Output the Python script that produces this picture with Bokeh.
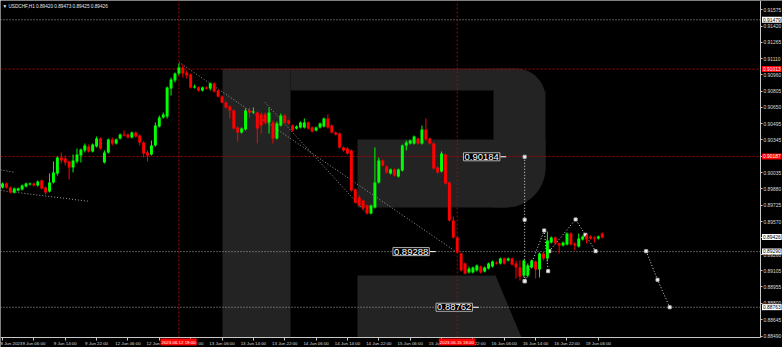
import numpy as np
from bokeh.plotting import figure
from bokeh.models import (Range1d, LinearAxis, FixedTicker, CustomJSTickFormatter,
                          ColumnDataSource, Label)
from bokeh.embed import file_html
from bokeh.resources import INLINE

# ---------------- data ----------------
SYMBOL = "USDCHF,H1"
HEADER_VALUES = ["0.89420", "0.89473", "0.89425", "0.89426"]

# hourly candles, prices x 1e-5
open_p = [89894, 89932, 89894, 89847, 89866, 89875, 89903, 89922, 89932, 89913,
          89960, 89894, 89856, 89941, 90026, 90177, 90168, 90140, 90083, 90140,
          90196, 90244, 90281, 90234, 90281, 90357, 90130, 90225, 90347, 90310,
          90357, 90395, 90395, 90366, 90414, 90385, 90319, 90225, 90206, 90291,
          90470, 90555, 90565, 90829, 90905, 90971, 91028, 90981, 90962, 90839,
          90839, 90810, 90839, 90829, 90877, 90810, 90754, 90697, 90659, 90622,
          90461, 90414, 90442, 90622, 90603, 90603, 90584, 90584, 90508, 90508,
          90357, 90480, 90574, 90527, 90480, 90451, 90461, 90461, 90508, 90461,
          90433, 90461, 90470, 90546, 90480, 90414, 90404, 90272, 90262, 90244,
          89875, 89799, 89771, 89724, 89648, 89705, 89941, 90149, 90092, 90026,
          90064, 89998, 90055, 90291, 90310, 90310, 90357, 90310, 90442, 90357,
          90310, 90083, 90045, 90206, 89941, 89582, 89421, 89270, 89176, 89091,
          89091, 89110, 89147, 89100, 89128, 89147, 89185, 89176, 89223, 89204,
          89223, 89176, 89138, 89062, 89062, 89138, 89194, 89119, 89270, 89223,
          89374, 89421, 89365, 89346, 89355, 89459, 89365, 89336, 89402, 89440,
          89431, 89421, 89412, 89459]
high_p = [89941, 89941, 89903, 89894, 89894, 89922, 89941, 89941, 89941, 89960,
          89969, 89903, 90026, 90140, 90187, 90225, 90196, 90149, 90206, 90262,
          90262, 90310, 90300, 90310, 90376, 90366, 90244, 90357, 90366, 90357,
          90404, 90433, 90404, 90423, 90423, 90395, 90329, 90244, 90338, 90508,
          90574, 90603, 90848, 90933, 90981, 91066, 91056, 90999, 90971, 90867,
          90848, 90848, 90848, 90886, 90886, 90820, 90763, 90707, 90669, 90631,
          90470, 90461, 90640, 90650, 90650, 90612, 90603, 90603, 90650, 90527,
          90518, 90593, 90584, 90536, 90489, 90480, 90518, 90546, 90518, 90470,
          90470, 90508, 90555, 90584, 90489, 90423, 90414, 90281, 90272, 90253,
          89884, 89818, 89780, 89733, 89733, 90272, 90177, 90158, 90102, 90073,
          90073, 90073, 90300, 90338, 90347, 90385, 90366, 90480, 90546, 90366,
          90319, 90092, 90234, 90215, 89950, 89620, 89431, 89280, 89185, 89147,
          89147, 89166, 89157, 89147, 89185, 89204, 89194, 89232, 89232, 89232,
          89232, 89204, 89204, 89213, 89176, 89213, 89204, 89280, 89289, 89478,
          89431, 89431, 89374, 89383, 89469, 89469, 89374, 89459, 89440, 89450,
          89440, 89431, 89440, 89469]
low_p = [89884, 89884, 89837, 89837, 89856, 89866, 89894, 89913, 89903, 89903,
         89875, 89828, 89847, 89932, 90007, 90121, 90102, 89969, 90036, 90121,
         90130, 90225, 90225, 90225, 90272, 90253, 90121, 90215, 90291, 90300,
         90347, 90376, 90357, 90357, 90366, 90291, 90177, 90140, 90196, 90281,
         90461, 90546, 90546, 90763, 90886, 90952, 90933, 90924, 90829, 90829,
         90801, 90801, 90820, 90810, 90792, 90744, 90688, 90640, 90546, 90442,
         90329, 90404, 90433, 90555, 90593, 90310, 90404, 90489, 90404, 90310,
         90347, 90470, 90499, 90489, 90423, 90442, 90451, 90451, 90442, 90414,
         90423, 90451, 90461, 90451, 90404, 90385, 90262, 90234, 90206, 89856,
         89743, 89714, 89677, 89639, 89639, 89695, 89932, 90092, 90026, 90017,
         89998, 89988, 90045, 90244, 90300, 90300, 90300, 90300, 90338, 90300,
         90064, 90026, 90036, 89922, 89573, 89412, 89270, 89100, 89072, 89081,
         89081, 89100, 89081, 89091, 89119, 89138, 89166, 89166, 89166, 89194,
         89157, 89034, 89015, 89043, 89043, 89128, 89034, 89043, 89204, 89194,
         89365, 89355, 89270, 89336, 89346, 89346, 89299, 89327, 89393, 89365,
         89402, 89374, 89402, 89412]
close_p = [89932, 89894, 89847, 89884, 89884, 89913, 89932, 89932, 89913, 89950,
           89884, 89847, 89941, 90036, 90177, 90149, 90130, 90083, 90149, 90206,
           90253, 90291, 90234, 90300, 90357, 90262, 90225, 90347, 90310, 90347,
           90395, 90385, 90366, 90414, 90376, 90319, 90215, 90196, 90291, 90480,
           90555, 90584, 90839, 90914, 90971, 91028, 90971, 90952, 90839, 90848,
           90810, 90839, 90829, 90877, 90801, 90754, 90697, 90650, 90622, 90451,
           90414, 90451, 90622, 90603, 90612, 90451, 90480, 90508, 90603, 90357,
           90499, 90574, 90508, 90499, 90433, 90470, 90508, 90508, 90451, 90423,
           90461, 90499, 90546, 90461, 90414, 90395, 90272, 90244, 90215, 89866,
           89752, 89724, 89695, 89648, 89724, 89941, 90149, 90102, 90036, 90064,
           90007, 90064, 90291, 90319, 90338, 90376, 90310, 90442, 90347, 90310,
           90073, 90036, 90215, 89932, 89582, 89421, 89280, 89110, 89081, 89128,
           89138, 89157, 89091, 89138, 89176, 89194, 89176, 89223, 89176, 89223,
           89166, 89138, 89053, 89204, 89157, 89204, 89119, 89270, 89223, 89393,
           89421, 89365, 89346, 89374, 89459, 89355, 89346, 89412, 89431, 89402,
           89412, 89412, 89431, 89421]

time_ticks = [0, 8, 16, 24, 32, 40, 48, 56, 64, 72, 80, 88, 96, 104, 112, 120, 128, 136, 144, 152]
time_labels = ["8 Jun 2023", "9 Jun 06:00", "9 Jun 14:00", "9 Jun 22:00", "12 Jun 06:00",
               "12 Jun 14:00", "12 Jun 22:00", "13 Jun 06:00", "13 Jun 14:00", "13 Jun 22:00",
               "14 Jun 06:00", "14 Jun 14:00", "14 Jun 22:00", "15 Jun 06:00", "15 Jun 14:00",
               "15 Jun 22:00", "16 Jun 06:00", "16 Jun 14:00", "16 Jun 22:00", "19 Jun 06:00"]
price_ticks = [0.91575, 0.91420, 0.91265, 0.91110, 0.90960, 0.90805, 0.90650, 0.90495,
               0.90345, 0.90190, 0.90035, 0.89880, 0.89725, 0.89570, 0.89420, 0.89260,
               0.89105, 0.88955, 0.88800, 0.88645, 0.88490]

cross_bars = [45, 116]
cross_labels = ["2023.06.12 19:00", "2023.06.15 18:00"]
red_levels = [0.91013, 0.90187]
gray_levels = [0.91479, 0.89288, 0.88762]
axis_marks_white = [0.91479, 0.89426, 0.89290, 0.88763]
axis_marks_red = [0.91013, 0.90187]

level_boxes_text = ["0.90184", "0.89288", "0.88762"]
level_boxes_price = [0.90184, 0.89288, 0.88762]
level_boxes_bar = [117.6, 99.6, 110.6]

# forecast path (bar index, price)
fc_vert_x = [133.2, 133.2, 133.2]
fc_vert_y = [0.90184, 0.89589, 0.89008]
fc_a_x = [133.2, 138.2, 139.2]
fc_a_y = [0.89008, 0.89488, 0.89103]
fc_b_x = [139.5, 146.2, 148.7, 151.3]
fc_b_y = [0.89292, 0.89592, 0.89447, 0.89292]
fc_c_x = [164.2, 167.1, 170.2]
fc_c_y = [0.89292, 0.89022, 0.88762]

# trend lines (bar index, price)
trend_lines = [
    ([-0.5, 2.9], [0.90061, 0.90038]),
    ([-0.5, 21.9], [0.89866, 0.89764]),
    ([45.0, 115.6], [0.91078, 0.89289]),
    ([67.0, 92.5], [0.90697, 0.89667]),
]

# ---------------- layout helpers ----------------
W, H = 782, 347
FRAME_W, FRAME_H = 760, 337      # price area (axes drawn at its right / bottom edge)
BAR_PX = 3.92
X0 = -2.0 / BAR_PX
PPX = 0.0000945
Y_TOP = 0.91661


def px_x(px):
    return X0 + px / BAR_PX


def px_y(py):
    return Y_TOP - py * PPX


X_AX = px_x(FRAME_W)
Y_AX = px_y(FRAME_H)
FONT = "Liberation Sans"

p = figure(width=W, height=H, x_range=Range1d(X0, px_x(W)), y_range=Range1d(px_y(H), Y_TOP),
           output_backend="svg", toolbar_location=None,
           x_axis_location=None, y_axis_location=None,
           background_fill_color="black", border_fill_color="black",
           min_border_left=0, min_border_top=0, min_border_right=0, min_border_bottom=0)
p.outline_line_color = None
p.xgrid.grid_line_color = None
p.ygrid.grid_line_color = None

# ---------------- watermark (R logo) ----------------
WM = "#232323"


def rrect(x0, y0, x1, y1, r_tr=0, r_br=0, n=12):
    pts = [(x0, y0)]
    if r_tr:
        for a in np.linspace(-np.pi / 2, 0, n):
            pts.append((x1 - r_tr + r_tr * np.cos(a), y0 + r_tr + r_tr * np.sin(a)))
    else:
        pts.append((x1, y0))
    if r_br:
        for a in np.linspace(0, np.pi / 2, n):
            pts.append((x1 - r_br + r_br * np.cos(a), y1 - r_br + r_br * np.sin(a)))
    else:
        pts.append((x1, y1))
    pts.append((x0, y1))
    return pts


shapes = [
    rrect(222, 68, 290, 337),
    rrect(290, 68, 545, 90, r_tr=30),
    rrect(493, 68, 545, 207, r_tr=30, r_br=40),
    rrect(357, 139, 545, 207, r_br=40),
    [(357, 275), (495, 275), (521, 337), (357, 337)],
]
for s in shapes:
    p.patch([px_x(a) for a, b in s], [px_y(b) for a, b in s], fill_color=WM, line_color=None)

# ---------------- trend / forecast lines ----------------
for xs, ys in trend_lines:
    p.line(xs, ys, line_color="#9a9a9a", line_dash="1 2", line_width=1)

for lv in gray_levels:
    p.segment(X0, lv, X_AX, lv, line_color="#a8a8a8", line_dash="1 2", line_width=1)
for lv in red_levels:
    p.segment(X0, lv, X_AX, lv, line_color="#b00000", line_dash="2 2", line_width=1)
for b in cross_bars:
    p.segment(b, Y_AX, b, Y_TOP, line_color="#b00000", line_dash="2 2", line_width=1)

for xs, ys in [(fc_vert_x, fc_vert_y), (fc_a_x, fc_a_y), (fc_b_x, fc_b_y), (fc_c_x, fc_c_y)]:
    p.line(xs, ys, line_color="#d8d8d8", line_dash="1 2", line_width=1)
    p.scatter(xs, ys, marker="square", size=3, fill_color="white", line_color="#bbbbbb")

# ---------------- candles ----------------
o = np.array(open_p) / 1e5
h = np.array(high_p) / 1e5
l = np.array(low_p) / 1e5
c = np.array(close_p) / 1e5
idx = np.arange(len(o))
up = c >= o
col = np.where(up, "#00ff00", "#ff0000")
top = np.maximum(o, c)
bot = np.minimum(o, c)
bot = np.where(top - bot < 0.00004, top - 0.00004, bot)
src = ColumnDataSource(dict(x=idx, o=o, h=h, l=l, c=c, top=top, bot=bot, col=col))
p.segment(x0="x", y0="l", x1="x", y1="h", color="col", line_width=1, source=src)
p.vbar(x="x", width=0.75, top="top", bottom="bot", fill_color="col", line_color=None, source=src)

# ---------------- axes (drawn at the price-area edges) ----------------
yax = LinearAxis(ticker=FixedTicker(ticks=price_ticks),
                 formatter=CustomJSTickFormatter(code="return tick.toFixed(5);"),
                 fixed_location=X_AX, bounds=(Y_AX, Y_TOP))
yax.axis_line_color = "#c8c8c8"
yax.major_tick_line_color = "#c8c8c8"
yax.major_tick_out = 2
yax.major_tick_in = 0
yax.minor_tick_out = 0
yax.minor_tick_in = 0
yax.major_label_standoff = 1
yax.major_label_text_font = FONT
yax.major_label_text_font_size = "4.9px"
yax.major_label_text_color = "#dcdcdc"
p.add_layout(yax, "right")

xax = LinearAxis(ticker=FixedTicker(ticks=time_ticks),
                 major_label_overrides={t: s for t, s in zip(time_ticks, time_labels)},
                 fixed_location=Y_AX, bounds=(X0, X_AX))
xax.axis_line_color = "#c8c8c8"
xax.major_tick_line_color = "#c8c8c8"
xax.major_tick_out = 3
xax.major_tick_in = 0
xax.minor_tick_out = 0
xax.minor_tick_in = 0
xax.major_label_standoff = 0
xax.major_label_text_align = "left"
xax.major_label_text_font = FONT
xax.major_label_text_font_size = "4.4px"
xax.major_label_text_color = "#dcdcdc"
p.add_layout(xax, "below")

# ---------------- labels ----------------
p.add_layout(Label(x=px_x(2), y=px_y(5.5), text="\u25bc " + SYMBOL + "  " + " ".join(HEADER_VALUES),
                   text_font=FONT, text_font_size="4.7px", text_color="#e8e8e8",
                   text_baseline="middle"))

for t, pr, b in zip(level_boxes_text, level_boxes_price, level_boxes_bar):
    p.add_layout(Label(x=b, y=pr, text=t, text_font=FONT, text_font_size="9.5px",
                       text_color="white", text_baseline="middle", text_align="left",
                       background_fill_color="black", border_line_color="#b4b4b4",
                       padding=1))
    p.line([b + 9.4, b + 10.9], [pr, pr], line_color="white", line_width=1)

for pr in axis_marks_white:
    p.add_layout(Label(x=px_x(761.5), y=pr, text=f"{pr:.5f}", text_font=FONT,
                       text_font_size="4.9px", text_color="black", text_baseline="middle",
                       background_fill_color="white", padding=1))
for pr in axis_marks_red:
    p.add_layout(Label(x=px_x(761.5), y=pr, text=f"{pr:.5f}", text_font=FONT,
                       text_font_size="4.9px", text_color="white", text_baseline="middle",
                       background_fill_color="#ff0000", padding=1))
for b, t in zip(cross_bars, cross_labels):
    p.add_layout(Label(x=b - 4.7, y=px_y(341.5), text=t, text_font=FONT,
                       text_font_size="4.4px", text_color="white", text_baseline="middle",
                       background_fill_color="#ff0000", padding=1))

open("out.html", "w").write(file_html(p, INLINE))
